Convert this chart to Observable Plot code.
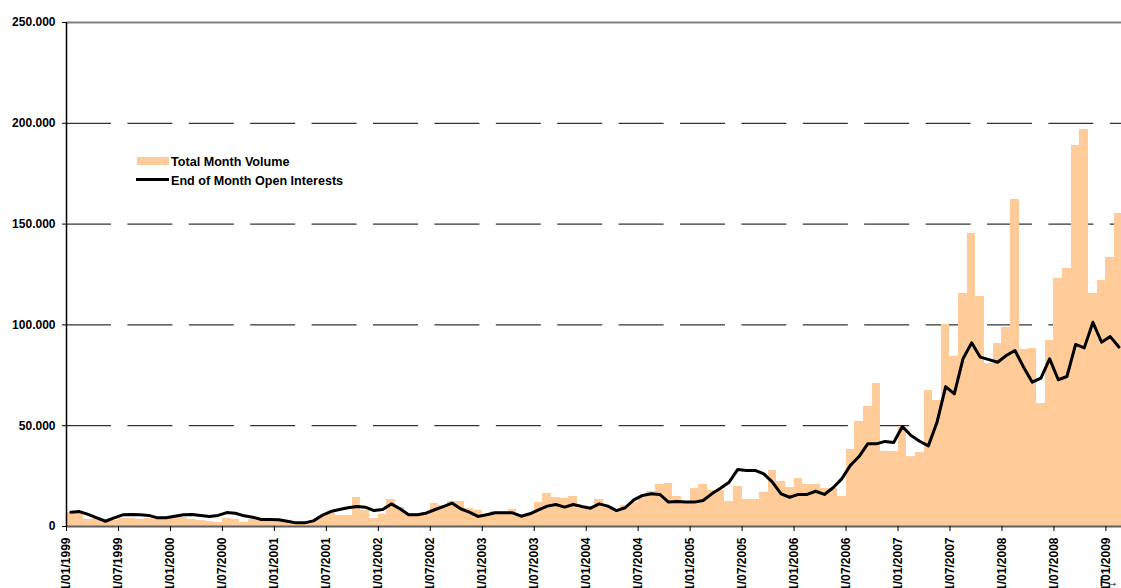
<!DOCTYPE html>
<html><head><meta charset="utf-8">
<script src="https://cdn.jsdelivr.net/npm/d3@7"></script>
<script src="https://cdn.jsdelivr.net/npm/@observablehq/plot@0.6"></script>
<style>
body{margin:0;background:#fff;overflow:hidden}
#chart{position:relative;width:1121px;height:588px}
</style>
</head><body><div id="chart"></div>
<script>
// Monthly data, January 1999 (index 0) to February 2009 (index 121)
const volume = [
 6900,6900,3600,4100,2100,3000,4100,3800,3500,3800,3300,3300,
 4600,4300,3300,3000,2500,1800,4100,3300,1800,3300,3300,3300,
 2800,2500,1800,1800,2800,5000,6600,5500,5500,14500,8000,4100,
 6000,13200,9600,6600,6300,7100,11200,10400,12400,12400,8800,7900,
 5500,7400,7400,8400,5000,6300,11700,16500,14500,14000,15000,8800,
 8800,13400,9900,7900,10200,12100,14200,17400,20800,21300,14900,12600,
 18700,20800,17900,17900,12400,19800,13400,13400,16900,27800,22300,19200,
 23700,20800,20800,18800,18800,14900,38200,52100,59500,70900,37200,37200,
 49800,34700,36800,67500,62600,100200,84300,115600,145300,114100,81000,90800,
 98700,162200,87800,88100,61000,92300,123000,128000,189000,196900,115600,122000,
 133600,155200
];
const openInterest = [
 7100,7400,6000,4300,2600,4300,5800,6000,5800,5500,4300,4300,
 5100,5800,6000,5500,5000,5500,6900,6600,5300,4600,3500,3500,
 3300,2600,1800,1800,2800,5500,7400,8400,9300,9900,9600,7900,
 8400,11200,8800,5800,5800,6600,8300,9900,11600,8800,7100,5000,
 5800,6800,6800,6800,5100,6300,8300,10100,10900,9600,10900,9900,
 9100,11200,10100,7900,9300,13200,15400,16200,15900,12100,12400,12200,
 12100,12900,16200,19000,22000,28300,27800,27800,26100,22000,16200,14500,
 15900,15900,17500,15900,19200,23600,30300,34700,41000,41000,42200,41700,
 49600,45100,42300,40000,51700,69400,65800,83200,91100,84000,82800,81500,
 84800,87300,79000,71600,73600,83200,72800,74400,90300,88600,101300,91400,
 94200,89000
];
const tickIndex = [0,6,12,18,24,30,36,42,48,54,60,66,72,78,84,90,96,102,108,114,120];
const tickLabels = [
 "01/01/1999","01/07/1999","01/01/2000","01/07/2000","01/01/2001","01/07/2001",
 "01/01/2002","01/07/2002","01/01/2003","01/07/2003","01/01/2004","01/07/2004",
 "01/01/2005","01/07/2005","01/01/2006","01/07/2006","01/01/2007","01/07/2007",
 "01/01/2008","01/07/2008","01/01/2009"
];
const yTicks = [0,50000,100000,150000,200000,250000];
const yTickLabels = ["0","50.000","100.000","150.000","200.000","250.000"];
const seriesNames = ["Total Month Volume","End of Month Open Interests"];
const volumeColor = "#FFCC99";

const data = volume.map((v,i)=>({i, volume:v, oi:openInterest[i]}));

const plot = Plot.plot({
  width:1121, height:588,
  marginLeft:66, marginRight:0, marginTop:22, marginBottom:62,
  x:{type:"linear", domain:[0,121.8], axis:null},
  y:{domain:[0,250000], axis:null},
  style:{fontFamily:"'Liberation Sans', Arial, sans-serif", background:"#fff", color:"#000"},
  marks:[
    Plot.gridY(yTicks.filter(d=>d>0 && d<250000), {stroke:"#000", strokeOpacity:1, strokeWidth:1, strokeDasharray:"45,16.4"}),
    Plot.rect(data,{x1:"i", x2:d=>d.i+1, y1:0, y2:"volume", fill:volumeColor, shapeRendering:"crispEdges"}),
    Plot.line(data,{x:d=>d.i+0.5, y:"oi", stroke:"#000", strokeWidth:3, strokeLinejoin:"round"}),
    Plot.ruleY([250000],{stroke:"#808080", strokeWidth:2}),
    Plot.ruleY([0],{stroke:"#606060", strokeWidth:2}),
    Plot.ruleX([0],{stroke:"#000", strokeWidth:1.5}),
    Plot.axisY({ticks:yTicks, tickFormat:d=>yTickLabels[yTicks.indexOf(d)], tickSize:4, tickPadding:7, fontSize:12, fontWeight:"bold", anchor:"left"}),
    Plot.axisX({ticks:tickIndex, tickFormat:d=>tickLabels[tickIndex.indexOf(d)], tickRotate:-90, tickSize:5, tickPadding:6, fontSize:12, fontWeight:"bold", anchor:"bottom"})
  ]
});
document.getElementById("chart").appendChild(plot);

// Legend
const svg = d3.select(plot);
const lg = svg.append("g")
  .attr("font-family","'Liberation Sans', Arial, sans-serif")
  .attr("font-weight","bold").attr("font-size",12.6).attr("fill","#000")
  .attr("text-anchor","start");
lg.append("rect").attr("x",137).attr("y",157).attr("width",32).attr("height",8).attr("fill",volumeColor);
lg.append("text").attr("x",171).attr("y",165.5).attr("text-anchor","start").text(seriesNames[0]);
lg.append("line").attr("x1",136).attr("x2",169).attr("y1",179.5).attr("y2",179.5).attr("stroke","#000").attr("stroke-width",3);
lg.append("text").attr("x",171).attr("y",185).attr("text-anchor","start").text(seriesNames[1]);
</script>
</body></html>
